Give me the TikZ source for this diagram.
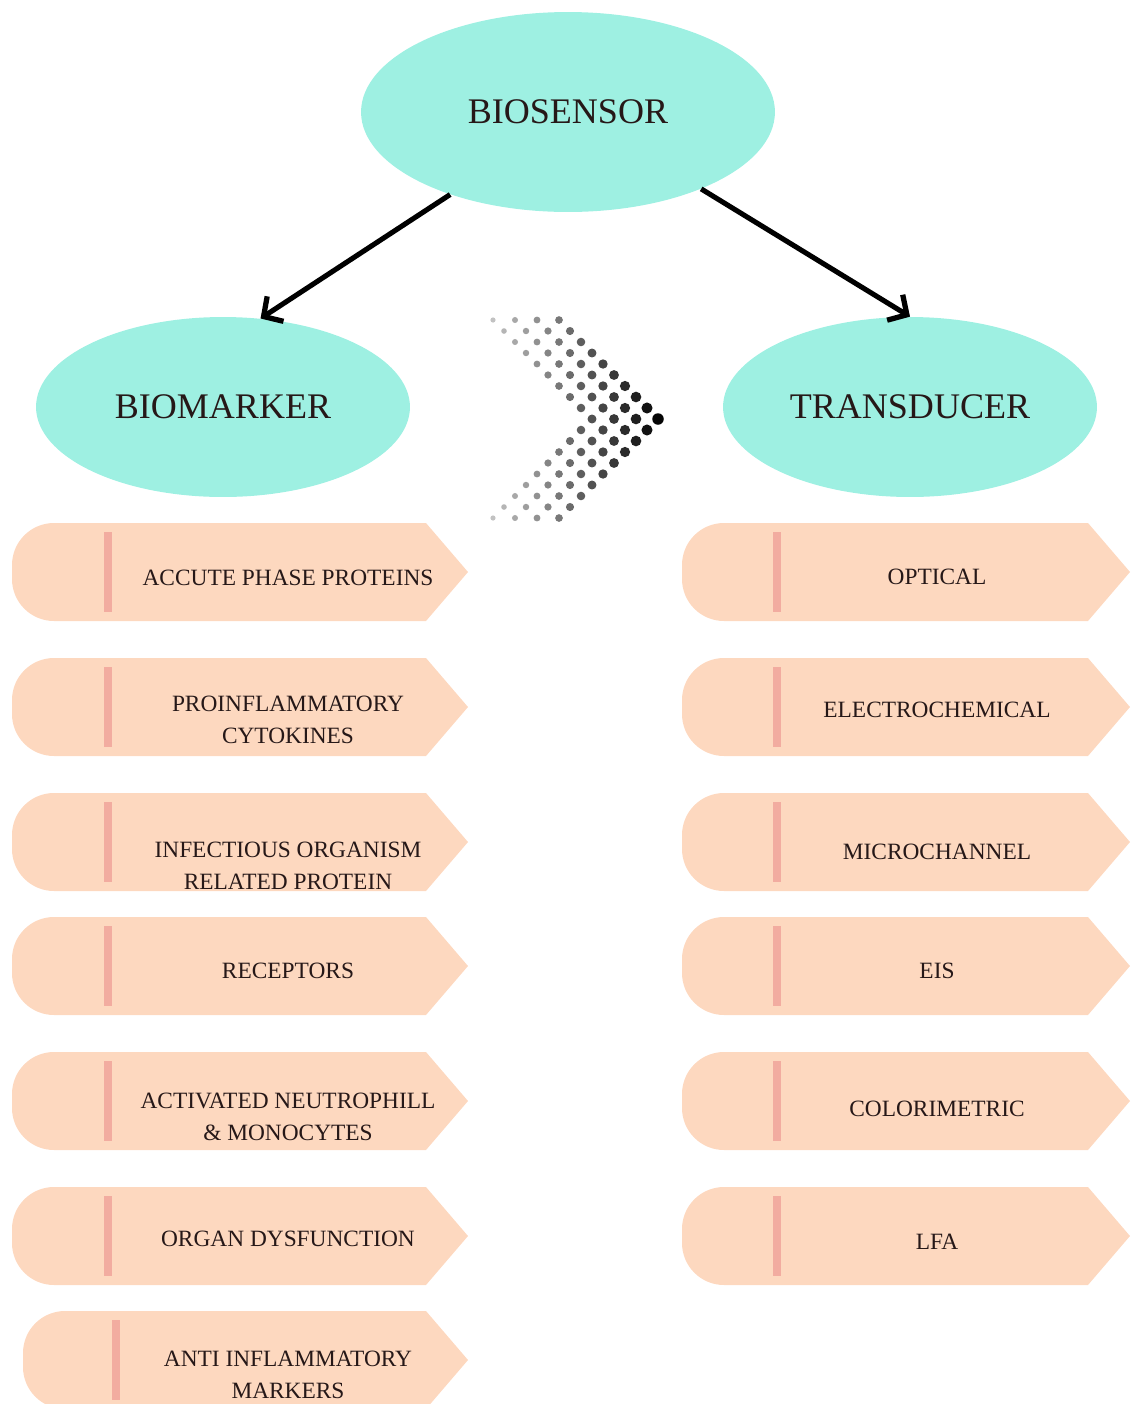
\documentclass[tikz,border=0pt]{standalone}
\usepackage{fontspec}
\setmainfont{Liberation Serif}
\usepackage{tikz}
\usetikzlibrary{arrows.meta}
\usetikzlibrary{shapes.geometric}

\definecolor{aqua}{RGB}{158,240,226}
\definecolor{peach}{RGB}{253,216,191}
\definecolor{barpink}{RGB}{242,172,160}
\definecolor{inkbrown}{RGB}{38,24,24}

% left end rounded, right end pointed
\newcommand{\pillbox}[4]{%
  \fill[peach] (#1+42,#3) arc[start angle=90, end angle=180, radius=0.84cm]
    -- (#1,#4-42) arc[start angle=180, end angle=270, radius=0.84cm]
    -- (#2-42,#4) -- (#2,{(#3+#4)/2}) -- (#2-42,#3) -- cycle;}

\begin{document}
\begin{tikzpicture}[x=0.02cm, y=-0.02cm,
    bubble/.style={ellipse, fill=aqua, inner sep=0pt, text=inkbrown, font=\fontsize{20.5}{23}\selectfont},
    itemtext/.style={align=center, text=inkbrown, font=\fontsize{13.3}{18.5}\selectfont},
    link/.style={-{Straight Barb[length=8pt,width=17pt,line width=3pt]}, line width=2.9pt}]
			\useasboundingbox (0,0) rectangle (1130,1404);

			\node[bubble, minimum width=8.28cm, minimum height=4cm] (biosensor) at (568,112) {BIOSENSOR};
			\node[bubble, minimum width=7.48cm, minimum height=3.6cm] (biomarker) at (223,407) {BIOMARKER};
			\node[bubble, minimum width=7.48cm, minimum height=3.6cm] (transducer) at (910,407) {TRANSDUCER};

			\draw[link] (biosensor.215) -- (biomarker.67);
			\draw[link] (biosensor.330) -- (transducer.north);

			% dotted chevron
			\foreach \k in {-9,...,9}
			\foreach \j in {0,...,3} {
				\pgfmathsetmacro{\dx}{658-22*\j-11*abs(\k)}
				\pgfmathsetmacro{\tone}{(\dx-488)/170}
				\pgfmathsetmacro{\shade}{int(22+76*\tone)}
				\pgfmathsetmacro{\rad}{0.05+0.065*\tone}
				\fill[black!\shade] (\dx,419+11*\k) circle[radius=\rad cm];
			}

			\foreach \yt in {523,658,793,917,1052,1187} {
				\pillbox{12}{468}{\yt}{\yt+98}
				\fill[barpink] (104,\yt+9) rectangle (112,\yt+89);
				\pillbox{682}{1130}{\yt}{\yt+98}
				\fill[barpink] (773,\yt+9) rectangle (781,\yt+89);
			}
			\pillbox{23}{468}{1311}{1409}
			\fill[barpink] (112,1320) rectangle (120,1400);

			\node[itemtext] (acute) at (288,578) {ACCUTE PHASE PROTEINS};
			\node[itemtext] (cytokines) at (288,720) {PROINFLAMMATORY\\CYTOKINES};
			\node[itemtext] (infectious) at (288,866) {INFECTIOUS ORGANISM\\RELATED PROTEIN};
			\node[itemtext] (receptors) at (288,971) {RECEPTORS};
			\node[itemtext] (neutrophil) at (288,1117) {ACTIVATED NEUTROPHILL\\\& MONOCYTES};
			\node[itemtext] (organ) at (288,1239) {ORGAN DYSFUNCTION};
			\node[itemtext] (antiinfl) at (288,1375) {ANTI INFLAMMATORY\\MARKERS};

			\node[itemtext] (optical) at (937,577) {OPTICAL};
			\node[itemtext] (electro) at (937,710) {ELECTROCHEMICAL};
			\node[itemtext] (microch) at (937,852) {MICROCHANNEL};
			\node[itemtext] (eis) at (937,971) {EIS};
			\node[itemtext] (colori) at (937,1109) {COLORIMETRIC};
			\node[itemtext] (lfa) at (937,1242) {LFA};
		\end{tikzpicture}
\end{document}
